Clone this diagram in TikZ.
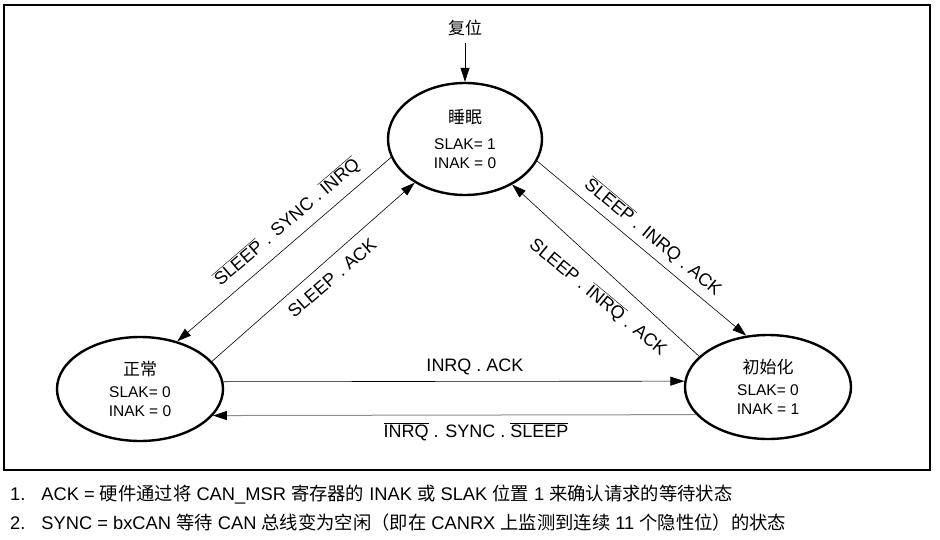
\documentclass[tikz,border=0pt]{standalone}
\usepackage{fontspec}
\setmainfont{Liberation Sans}
\newfontfamily\cjk{Noto Sans CJK SC}
\usetikzlibrary{shapes.geometric,arrows.meta}
\newcommand{\ovl}[1]{$\overline{\hbox{#1}}$}
\begin{document}
\begin{tikzpicture}[x=1pt,y=-1pt,
  state/.style={ellipse,draw,line width=2.4pt,minimum width=166pt,minimum height=104pt,inner sep=0pt,align=center,font=\fontsize{15.5}{19}\selectfont},
  title/.style={font=\cjk\fontsize{17}{19}\selectfont},
  tr/.style={line width=0.6pt,-{Triangle[length=14pt,width=9pt]}},
  lbl/.style={font=\fontsize{18}{20}\selectfont,inner sep=0pt},
  note/.style={font=\fontsize{18.3}{20}\selectfont,anchor=west,inner sep=0pt}]
\useasboundingbox (0,0) rectangle (940,540);
\draw[line width=1.2pt] (4,5) rectangle (930,470);

\node[state,minimum width=154pt,minimum height=112pt] (sleep) at (465,139) {{\cjk\fontsize{17}{19}\selectfont 睡眠}\\[7pt] SLAK= 1\\ INAK = 0};
\node[state] (normal) at (140,389) {{\cjk\fontsize{17}{19}\selectfont 正常}\\[3pt] SLAK= 0\\ INAK = 0};
\node[state] (init) at (768,387) {{\cjk\fontsize{17}{19}\selectfont 初始化}\\[3pt] SLAK= 0\\ INAK = 1};

\coordinate (rst) at (465,43);
\node[title] (rstl) at (465,28) {复位};
\draw[tr] (rst) -- (sleep.north);

\draw[tr] (sleep.194) -- (normal.52.7);
\draw[tr] (normal.21.7) -- (sleep.221.8);
\draw[tr] (sleep.343) -- (init.113.9);
\draw[tr] (init.156.9) -- (sleep.316.9);
\draw[tr] (normal.5) -- (init.176.5);
\draw[line width=1pt,draw=black!45,-{Triangle[length=14pt,width=9pt,black]}] (init.201.8) -- (normal.-20);

\node[lbl,rotate=40.6] (l1) at (287,222) {\ovl{SLEEP} . SYNC . \ovl{INRQ}};
\node[lbl,rotate=40.6] (l2) at (332,278) {SLEEP . ACK};
\node[lbl,rotate=-39.7] (l3) at (653,237) {\ovl{SLEEP} . INRQ . ACK};
\node[lbl,rotate=-39.7] (l4) at (598,297) {SLEEP . \ovl{INRQ} . ACK};
\node[lbl] (l5) at (475,367) {INRQ . ACK};
\node[lbl] (l6) at (476,432) {\ovl{INRQ} . SYNC . \ovl{SLEEP}};

\node[note] (n1) at (10,495) {1.\hspace{16pt}ACK = {\cjk 硬件通过将} CAN\_MSR {\cjk 寄存器的} INAK {\cjk 或} SLAK {\cjk 位置} 1 {\cjk 来确认请求的等待状态}};
\node[note] (n2) at (10,523) {2.\hspace{16pt}SYNC = bxCAN {\cjk 等待} CAN {\cjk 总线变为空闲（即在} CANRX {\cjk 上监测到连续} 11 {\cjk 个隐性位）的状态}};
\end{tikzpicture}
\end{document}
